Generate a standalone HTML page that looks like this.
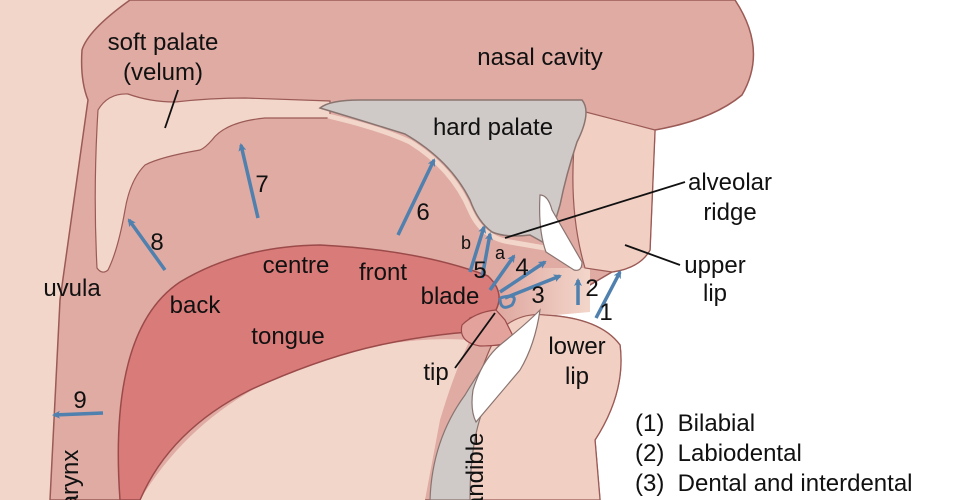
<!DOCTYPE html>
<html><head><meta charset="utf-8"><style>
html,body{margin:0;padding:0;background:#fff;overflow:hidden;width:960px;height:500px}
svg{display:block}
text{font-family:"Liberation Sans",sans-serif;font-size:24px;fill:#111;white-space:pre}
</style></head><body>
<svg width="960" height="500" viewBox="0 0 960 500" xmlns="http://www.w3.org/2000/svg">
<defs>
<marker id="ah" markerWidth="8" markerHeight="8" refX="6" refY="4" orient="auto" markerUnits="userSpaceOnUse" viewBox="0 0 8 8">
<path d="M0,0 L8,4 L0,8 L2,4 Z" fill="#4f80ae"/></marker>
<linearGradient id="mg" x1="0" x2="1" y1="0" y2="0"><stop offset="0" stop-color="#dfa9a1"/><stop offset="1" stop-color="#f3d6ca"/></linearGradient>
</defs>
<rect width="960" height="500" fill="#fff"/>
<path d="M0,0 L130,0 Q88,30 82,50 Q80,80 88,100 L60,300 L50,500 L0,500 Z" fill="#f3d6ca"/>
<path d="M50,500 L60,300 L88,100 Q80,80 82,50 Q88,30 130,0 L735,0 Q768,50 742,95 Q712,120 655,130 L650,250 Q640,268 612,272 L590,285 L560,305 L545,315 Q600,318 620,345 Q626,392 595,440 L600,500 Z" fill="#dfaba3" stroke="#9b5a55" stroke-width="1.5"/>
<path d="M500,268 L590,268 L590,312 L500,320 Z" fill="url(#mg)"/>
<path d="M578,110 L655,130 L650,250 Q640,268 612,272 L585,268 Q565,200 578,110 Z" fill="#f1cfc3" stroke="#9b5a55" stroke-width="1.2"/>
<path d="M98,110 Q108,93 128,94 Q150,102 175,102 Q210,98 245,98 L330,101 L330,118 L265,118 Q225,122 212,140 Q205,148 200,150 Q160,157 145,165 Q130,180 125,210 Q118,250 108,270 Q102,275 97,268 Q93,190 98,110 Z" fill="#f3d6ca" stroke="#9b5a55" stroke-width="1.2"/>
<path d="M320,108 Q330,100 360,100 L582,100 Q592,112 577,142 Q566,175 560,205 L548,245 L530,235 Q506,238 492,232 Q478,222 470,200 Q450,160 405,134 Q360,120 320,108 Z" fill="#cfcac7" stroke="#8a7470" stroke-width="1.5"/>
<path d="M328,116 Q380,128 410,142 Q452,168 470,210 Q482,238 510,242 L545,248" fill="none" stroke="#f3d6ca" stroke-width="5"/>
<path d="M140,500 Q200,400 320,360 Q400,335 470,340 Q455,370 440,420 L425,500 Z" fill="#f3d6ca"/>
<path d="M500,330 Q520,312 545,315 Q600,318 620,345 Q626,392 595,440 L600,500 L430,500 Q440,440 480,375 Q490,345 500,330 Z" fill="#f1cfc3" stroke="#9b5a55" stroke-width="1.2"/>
<path d="M430,500 Q432,440 465,395 Q480,370 492,355 L505,350 Q500,375 490,395 Q470,430 470,500 Z" fill="#cfcac7" stroke="#8a7470" stroke-width="1.2"/>
<path d="M120,500 Q108,330 180,282 Q240,246 320,245 Q420,250 488,276 Q505,292 496,310 L470,318 Q458,338 480,345 L500,345 Q505,336 505,330 Q440,332 380,345 Q320,358 250,390 Q170,430 140,500 Z" fill="#d97b79" stroke="#9b4a4a" stroke-width="1.5"/>
<path d="M496,310 Q475,312 462,325 Q458,342 480,346 Q505,346 515,340 L505,320 Z" fill="#e3a39c" stroke="#9b4a4a" stroke-width="1.2"/>
<path d="M540,195 Q548,195 552,210 L582,262 Q582,272 574,270 L546,252 Q538,230 540,195 Z" fill="#fff" stroke="#8a7470" stroke-width="1.2"/>
<path d="M540,310 Q535,345 520,370 L476,422 Q470,410 473,390 Q482,360 500,345 Q525,325 540,310 Z" fill="#fff" stroke="#8a7470" stroke-width="1.2"/>
<g stroke="#111" stroke-width="1.8">
<line x1="178" y1="90" x2="165" y2="128"/>
<line x1="685" y1="182" x2="505" y2="238"/>
<line x1="625" y1="245" x2="680" y2="265"/>
<line x1="495" y1="313" x2="455" y2="368"/>
</g>
<g stroke="#4f80ae" stroke-width="3.5" fill="none" marker-end="url(#ah)">
<line x1="103" y1="413" x2="54" y2="415"/>
<line x1="165" y1="270" x2="129" y2="220"/>
<line x1="258" y1="218" x2="241" y2="145"/>
<line x1="398" y1="235" x2="434" y2="160"/>
<line x1="470" y1="272" x2="484" y2="227"/>
<line x1="482" y1="278" x2="490" y2="234"/>
<line x1="490" y1="290" x2="514" y2="256"/>
<line x1="500" y1="292" x2="545" y2="262"/>
<line x1="505" y1="298" x2="560" y2="276"/>
<line x1="578" y1="305" x2="578" y2="280"/>
<line x1="596" y1="318" x2="620" y2="272"/>
</g>
<path d="M500,298 Q520,292 512,305 Q500,312 500,298" fill="none" stroke="#4f80ae" stroke-width="3"/>
<g text-anchor="middle">
<text x="163" y="50">soft palate</text>
<text x="163" y="80">(velum)</text>
<text x="540" y="65">nasal cavity</text>
<text x="493" y="135">hard palate</text>
<text x="730" y="190">alveolar</text>
<text x="730" y="220">ridge</text>
<text x="715" y="273">upper</text>
<text x="715" y="301">lip</text>
<text x="72" y="296">uvula</text>
<text x="195" y="313">back</text>
<text x="296" y="273">centre</text>
<text x="383" y="280">front</text>
<text x="450" y="304">blade</text>
<text x="288" y="344">tongue</text>
<text x="436" y="380">tip</text>
<text x="577" y="354">lower</text>
<text x="577" y="384">lip</text>
<text x="80" y="408">9</text>
<text x="157" y="250">8</text>
<text x="262" y="192">7</text>
<text x="423" y="220">6</text>
<text x="480" y="278">5</text>
<text x="522" y="275">4</text>
<text x="538" y="303">3</text>
<text x="592" y="296">2</text>
<text x="606" y="320">1</text>
<text x="466" y="249" style="font-size:18px">b</text>
<text x="500" y="259" style="font-size:18px">a</text>
</g>
<text x="635" y="431">(1)  Bilabial</text>
<text x="635" y="461">(2)  Labiodental</text>
<text x="635" y="491">(3)  Dental and interdental</text>
<text transform="translate(78,535) rotate(-90)">pharynx</text>
<text transform="translate(483,530) rotate(-90)">mandible</text>
</svg>
</body></html>
